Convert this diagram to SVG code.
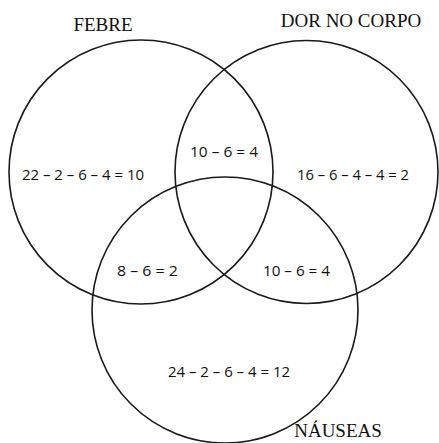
<svg xmlns="http://www.w3.org/2000/svg" width="439" height="443" viewBox="0 0 439 443">
<style>
.c{fill:none;stroke:#1a1a1a;stroke-width:1.6}
.t{font-family:"Liberation Serif",serif;font-size:19px;fill:#111}
.n{font-family:"Open Sans","Noto Sans",sans-serif;font-size:15px;fill:#111}
</style>
<rect width="439" height="443" fill="#fff"/>
<g id="febre"><circle class="c" cx="141" cy="172" r="132"/><text class="t" x="103" y="31" text-anchor="middle">FEBRE</text></g>
<g id="dor"><circle class="c" cx="306.5" cy="172" r="131.5"/><text class="t" x="351" y="27" text-anchor="middle">DOR NO CORPO</text></g>
<g id="nauseas"><circle class="c" cx="225" cy="310" r="133"/><text class="t" x="338" y="437" text-anchor="middle">NÁUSEAS</text></g>
<g id="labels">
<text class="n" x="22" y="180" textLength="122" lengthAdjust="spacingAndGlyphs">22 – 2 – 6 – 4 = 10</text>
<text class="n" x="190" y="157" textLength="68" lengthAdjust="spacingAndGlyphs">10 – 6  = 4</text>
<text class="n" x="297" y="180" textLength="112" lengthAdjust="spacingAndGlyphs">16 – 6 – 4 – 4 = 2</text>
<text class="n" x="117" y="276" textLength="61" lengthAdjust="spacingAndGlyphs">8 – 6  = 2</text>
<text class="n" x="263" y="276" textLength="67" lengthAdjust="spacingAndGlyphs">10 – 6  = 4</text>
<text class="n" x="168" y="377" textLength="122" lengthAdjust="spacingAndGlyphs">24 – 2 – 6 – 4 = 12</text>
</g>
<g id="connectors"/>
</svg>
